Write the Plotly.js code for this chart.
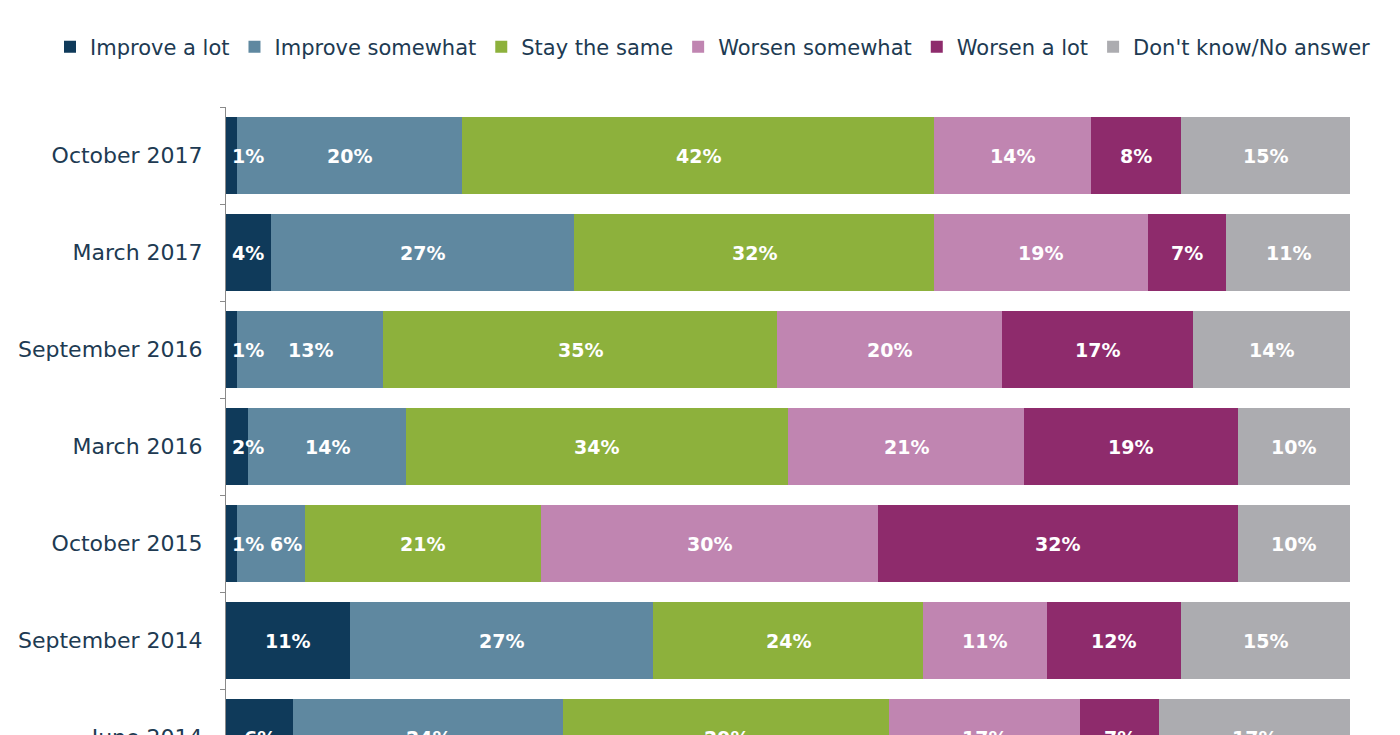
<!DOCTYPE html>
<html>
<head>
<meta charset="utf-8">
<script src="https://cdn.plot.ly/plotly-3.0.1.min.js"></script>
<style>
html, body { margin: 0; padding: 0; background: #ffffff; overflow: hidden; }
#chart { width: 1400px; height: 800px; }
</style>
</head>
<body>
<div id="chart"></div>
<script>
// Survey periods, top to bottom
const periods = ["October 2017", "March 2017", "September 2016", "March 2016", "October 2015", "September 2014", "June 2014"];

// Series names
const seriesNames = ["Improve a lot", "Improve somewhat", "Stay the same", "Worsen somewhat", "Worsen a lot", "Don't know/No answer"];

// Series values (%), same order as periods
const improveALot      = [1, 4, 1, 2, 1, 11, 6];
const improveSomewhat  = [20, 27, 13, 14, 6, 27, 24];
const stayTheSame      = [42, 32, 35, 34, 21, 24, 29];
const worsenSomewhat   = [14, 19, 20, 21, 30, 11, 17];
const worsenALot       = [8, 7, 17, 19, 32, 12, 7];
const dontKnow         = [15, 11, 14, 10, 10, 15, 17];

const seriesValues = [improveALot, improveSomewhat, stayTheSame, worsenSomewhat, worsenALot, dontKnow];
const seriesColors = ["#0f3a5a", "#5f88a0", "#8db13c", "#c085b1", "#8e2b6c", "#acacb0"];

const FONT = "DejaVu Sans, Verdana, sans-serif";

const traces = seriesNames.map((name, i) => ({
  type: "bar",
  orientation: "h",
  name: name,
  y: periods,
  x: seriesValues[i],
  marker: { color: seriesColors[i], line: { width: 0 } },
  hoverinfo: "skip"
}));

// Data labels computed from the values (cumulative positions)
const annotations = [];
const pxPerUnit = 1124 / 100;
periods.forEach((p, r) => {
  let start = 0;
  let prevRight = -Infinity;
  seriesValues.forEach((vals, i) => {
    const v = vals[r];
    const label = v + "%";
    const estW = (label.length === 2 ? 34 : 45);
    let centerPx = (start + v / 2) * pxPerUnit;
    let leftPx = centerPx - estW / 2;
    let shift = 0;
    const minLeft = Math.max(prevRight + 4, start * pxPerUnit + 5);
    if (leftPx < minLeft) { shift = minLeft - leftPx; }
    annotations.push({
      x: start + v / 2, y: p, xref: "x", yref: "y",
      text: label, showarrow: false, xshift: shift,
      font: { family: FONT, size: 19, color: "#ffffff", weight: "bold" }
    });
    prevRight = leftPx + shift + estW;
    start += v;
  });
});

const layout = {
  width: 1400,
  height: 800,
  barmode: "stack",
  bargap: 0.215,
  paper_bgcolor: "#ffffff",
  plot_bgcolor: "#ffffff",
  margin: { l: 226, r: 50, t: 107, b: 14, autoexpand: false },
  showlegend: true,
  legend: {
    orientation: "h",
    xref: "paper", yref: "paper",
    x: (50 - 226) / 1124, xanchor: "left",
    y: 1 + 60 / 679, yanchor: "middle",
    font: { family: FONT, size: 21, color: "#203a52" },
    itemwidth: 30,
    traceorder: "normal",
    itemclick: false, itemdoubleclick: false
  },
  xaxis: {
    range: [0, 100],
    visible: false,
    fixedrange: true
  },
  yaxis: {
    type: "category",
    autorange: "reversed",
    showline: true,
    linecolor: "#8a8a8a",
    linewidth: 1,
    ticks: "outside",
    tickson: "boundaries",
    ticklen: 5,
    tickcolor: "#8a8a8a",
    ticklabelstandoff: 18,
    showgrid: false,
    zeroline: false,
    automargin: false,
    tickfont: { family: FONT, size: 22, color: "#203a52" },
    fixedrange: true
  },
  annotations: annotations
};

Plotly.newPlot("chart", traces, layout, { displayModeBar: false, staticPlot: true });
</script>
</body>
</html>
